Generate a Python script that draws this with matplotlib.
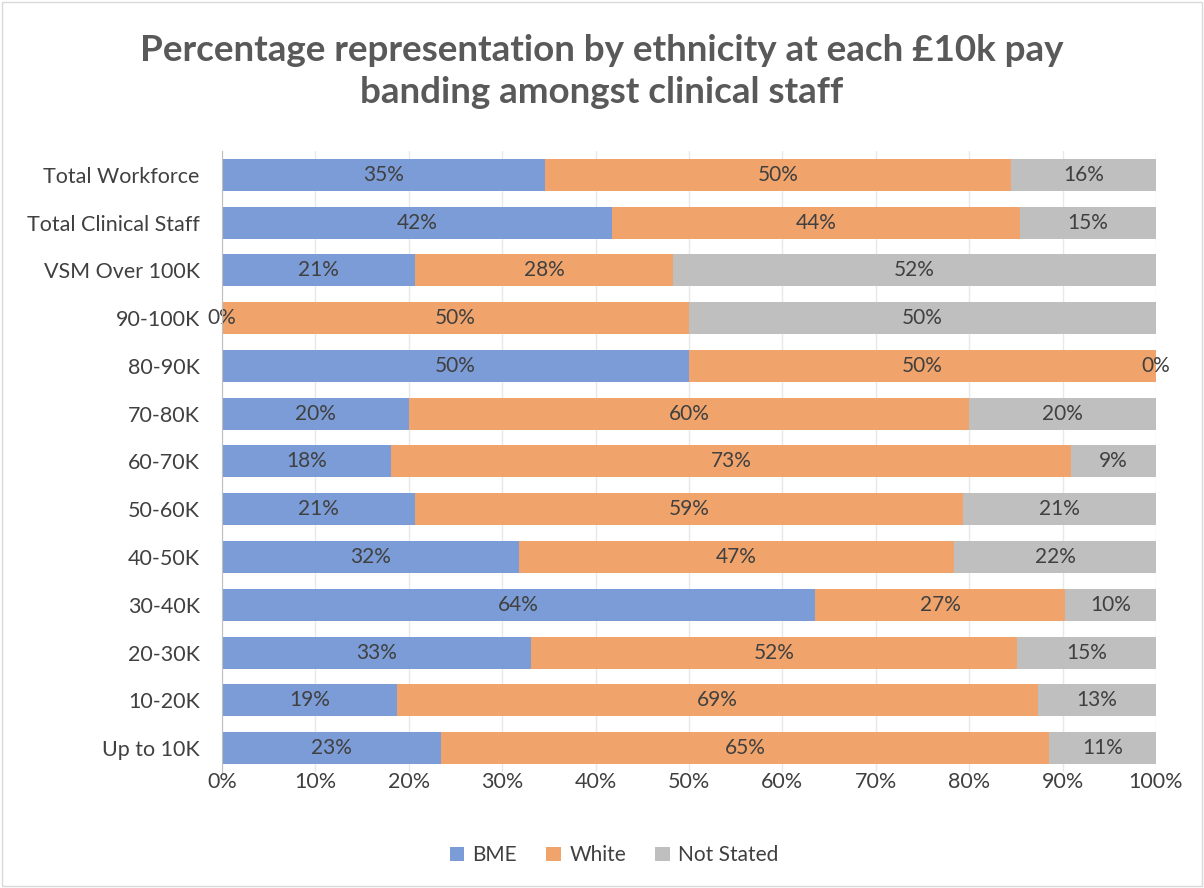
import numpy as np
import matplotlib.pyplot as plt
from matplotlib.patches import Rectangle

# data
categories = ['Total Workforce', 'Total Clinical Staff', 'VSM Over 100K', '90-100K', '80-90K',
              '70-80K', '60-70K', '50-60K', '40-50K', '30-40K', '20-30K', '10-20K', 'Up to 10K']
bme = [34.6, 41.8, 20.7, 0.0, 50.0, 20.0, 18.1, 20.7, 31.8, 63.5, 33.1, 18.7, 23.4]
white = [49.9, 43.6, 27.6, 50.0, 50.0, 60.0, 72.8, 58.6, 46.6, 26.8, 52.0, 68.7, 65.2]
not_stated = [15.5, 14.6, 51.7, 50.0, 0.0, 20.0, 9.1, 20.7, 21.6, 9.7, 14.9, 12.6, 11.4]
series_names = ['BME', 'White', 'Not Stated']
colors = ['#7B9CD6', '#F0A46C', '#BFBFBF']

plt.rcParams['font.family'] = ['Lato', 'DejaVu Sans']
text_col = '#404040'

fig = plt.figure(figsize=(12.04, 8.88), dpi=100)
fig.patches.append(Rectangle((0.002, 0.002), 0.996, 0.996, transform=fig.transFigure,
                             fill=False, edgecolor='#D9D9D9', linewidth=1))
ax = fig.add_axes([0.1844, 0.1306, 0.7757, 0.6994])

y = np.arange(len(categories))
left = np.zeros(len(categories))
for vals, name, col in zip([bme, white, not_stated], series_names, colors):
    vals = np.array(vals)
    ax.barh(y, vals, left=left, height=0.67, color=col, label=name, zorder=2)
    for yi, l, v in zip(y, left, vals):
        ax.text(l + v / 2, yi, f'{v:.0f}%', ha='center', va='center',
                fontsize=15, color=text_col, zorder=4)
    left = left + vals

ax.set_xlim(0, 100)
ax.set_ylim(len(categories) - 0.5, -0.5)
ax.set_yticks(y)
ax.set_yticklabels(categories, fontsize=15.5, color=text_col)
ax.set_xticks(np.arange(0, 101, 10))
ax.set_xticklabels([f'{t}%' for t in range(0, 101, 10)], fontsize=15.5, color=text_col)
ax.tick_params(axis='y', length=0, pad=16)
ax.tick_params(axis='x', length=0, pad=0)
ax.grid(axis='x', color='#D9D9D9', linewidth=1, alpha=0.6, zorder=3)
for s in ['top', 'right', 'bottom']:
    ax.spines[s].set_visible(False)
ax.spines['left'].set_color('#BFBFBF')
ax.spines['left'].set_zorder(5)

fig.suptitle('Percentage representation by ethnicity at each £10k pay\nbanding amongst clinical staff',
             y=0.962, fontsize=26.5, fontweight='bold', color='#595959', linespacing=1.35)

fig.legend(loc='center', bbox_to_anchor=(0.51, 0.037), ncol=3, frameon=False,
           fontsize=15, labelcolor=text_col, handlelength=0.7, handleheight=0.7,
           columnspacing=1.4, handletextpad=0.4)

fig.savefig('out.png', dpi=100)
